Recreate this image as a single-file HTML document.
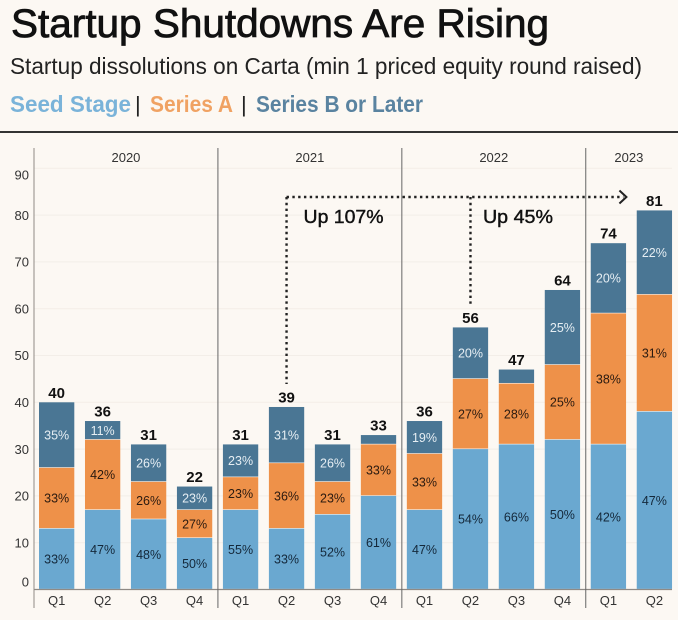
<!DOCTYPE html>
<html lang="en">
<head>
<meta charset="utf-8">
<title>Startup Shutdowns Are Rising</title>
<style>
html,body{margin:0;padding:0;background:#fcf8f3;}
svg{display:block;font-family:"Liberation Sans",sans-serif;}
</style>
</head>
<body>
<svg id="chart" xmlns="http://www.w3.org/2000/svg" width="678" height="620" viewBox="0 0 678 620">
  <rect x="0" y="0" width="678" height="620" fill="#fcf8f3"/>
  <text x="11" y="37" font-size="39.5" font-weight="400" stroke="#111" stroke-width="0.8" fill="#111" textLength="538" lengthAdjust="spacingAndGlyphs">Startup Shutdowns Are Rising</text>
  <text x="10" y="74" font-size="23" fill="#222" textLength="632" lengthAdjust="spacingAndGlyphs">Startup dissolutions on Carta (min 1 priced equity round raised)</text>
  <text x="10" y="112" font-size="23" font-weight="700" fill="#7ab3d9" textLength="121" lengthAdjust="spacingAndGlyphs">Seed Stage</text>
  <text x="135" y="112" font-size="22" fill="#222">|</text>
  <text x="150" y="112" font-size="23" font-weight="700" fill="#f0a263" textLength="83" lengthAdjust="spacingAndGlyphs">Series A</text>
  <text x="241" y="112" font-size="22" fill="#222">|</text>
  <text x="256" y="112" font-size="23" font-weight="700" fill="#5a83a0" textLength="167" lengthAdjust="spacingAndGlyphs">Series B or Later</text>
  <rect x="0" y="131" width="678" height="2" fill="#333"/>
  <g id="plot"></g>
</svg>
<script>
const quarters = ["Q1","Q2","Q3","Q4","Q1","Q2","Q3","Q4","Q1","Q2","Q3","Q4","Q1","Q2"];
const years = ["2020","2021","2022","2023"];
const yearSpans = [4,4,4,2];
const yTicks = [0,10,20,30,40,50,60,70,80,90];
const seedValues = [13,17,15,11,17,13,16,20,17,30,31,32,31,38];
const seriesAValues = [13,15,8,6,7,14,7,11,12,15,13,16,28,25];
const seriesBValues = [14,4,8,5,7,12,8,2,7,11,3,16,15,18];
const totals = [40,36,31,22,31,39,31,33,36,56,47,64,74,81];
const seedPct = ["33%","47%","48%","50%","55%","33%","52%","61%","47%","54%","66%","50%","42%","47%"];
const seriesAPct = ["33%","42%","26%","27%","23%","36%","23%","33%","33%","27%","28%","25%","38%","31%"];
const seriesBPct = ["35%","11%","26%","23%","23%","31%","26%","","19%","20%","","25%","20%","22%"];
const annotationStartIndexes = [5,9];
const annotationEndIndex = 13;
const annotationLabels = ["Up 107%","Up 45%"];

const plot = document.getElementById('plot');
const NS = 'http://www.w3.org/2000/svg';
const X0 = 39, STEP = 45.98, BAR_W = 35.3, Y0 = 589.5, UNIT = 4.68, LEFT = 34;
const xLeft = i => X0 + i * STEP;
const xMid = i => xLeft(i) + BAR_W / 2;
const yPos = v => Y0 - v * UNIT;

function make(tag, attrs, text) {
  const el = document.createElementNS(NS, tag);
  for (const k in attrs) el.setAttribute(k, attrs[k]);
  if (text !== undefined) el.textContent = text;
  plot.appendChild(el);
  return el;
}

// gridlines and y tick labels
yTicks.forEach((t, i) => {
  if (t > 0) {
    const g = make('line', {x1: LEFT, x2: 672, y1: yPos(t), y2: yPos(t), stroke: '#f3eee8', 'stroke-width': 1});
    
    
  }
  const shift = i === 0 ? -7.5 : (i === yTicks.length - 1 ? 6.5 : 0);
  const lab = make('text', {x: 29, y: yPos(t) + shift + 4.7, 'text-anchor': 'end', 'font-size': 13, fill: '#333'}, t);
  
  
});

// stacked bars
const layers = [
  {key: 'seed', vals: seedValues, pct: seedPct, fill: '#6aa8d0', txt: '#14283a'},
  {key: 'series-a', vals: seriesAValues, pct: seriesAPct, fill: '#ee9149', txt: '#2a1a10'},
  {key: 'series-b', vals: seriesBValues, pct: seriesBPct, fill: '#4a7694', txt: '#e6eef3'}
];
quarters.forEach((q, i) => {
  let base = 0;
  layers.forEach(layer => {
    const v = layer.vals[i];
    const top = yPos(base + v), bottom = yPos(base);
    const r = make('rect', {x: xLeft(i), y: top, width: BAR_W, height: Math.max(0, bottom - top - 0.6), fill: layer.fill});
    
    
    if (layer.pct[i]) {
      const t = make('text', {x: xMid(i), y: (top + bottom) / 2 + 4.4, 'text-anchor': 'middle', 'font-size': 12.5, fill: layer.txt}, layer.pct[i]);
      
      
    }
    base += v;
  });
  const tot = make('text', {x: xMid(i), y: yPos(totals[i]) - 4.5, 'text-anchor': 'middle', 'font-size': 15, 'font-weight': 700, fill: '#111'}, totals[i]);
  
  
  const ql = make('text', {x: xMid(i), y: 605, 'text-anchor': 'middle', 'font-size': 13, fill: '#333'}, q);
  
  
});

// x axis
const axis = make('line', {x1: LEFT, x2: 672, y1: Y0, y2: Y0, stroke: '#8f8a85', 'stroke-width': 1.2});



// year dividers and labels
let cursor = 0;
years.forEach((yr, i) => {
  const xStart = xLeft(cursor) - 5;
  const xEnd = cursor + yearSpans[i] < quarters.length ? xLeft(cursor + yearSpans[i]) - 5 : 672;
  const d = make('line', {x1: xStart, x2: xStart, y1: 148, y2: 608, stroke: i === 0 ? '#8f8a85' : '#666', 'stroke-width': 1});
  
  
  const l = make('text', {x: (xStart + xEnd) / 2, y: 162, 'text-anchor': 'middle', 'font-size': 13, fill: '#333'}, yr);
  
  
  cursor += yearSpans[i];
});

// annotations
const ANNOT_Y = 197;
const dotted = {stroke: '#222', 'stroke-width': 2.4, 'stroke-dasharray': '2.4 3.4', fill: 'none'};
const arrowEnd = xMid(annotationEndIndex - 1) + 17;
const hl = make('line', Object.assign({x1: xMid(annotationStartIndexes[0]), x2: arrowEnd - 2, y1: ANNOT_Y, y2: ANNOT_Y}, dotted));


const head = make('path', {d: 'M' + (arrowEnd - 6) + ' ' + (ANNOT_Y - 6.5) + 'L' + (arrowEnd + 1) + ' ' + ANNOT_Y + 'L' + (arrowEnd - 6) + ' ' + (ANNOT_Y + 6.5), stroke: '#222', 'stroke-width': 2, fill: 'none'});


annotationStartIndexes.forEach((idx, i) => {
  const v = make('line', Object.assign({x1: xMid(idx), x2: xMid(idx), y1: ANNOT_Y, y2: yPos(totals[idx]) - 23}, dotted));
  
  
  const t = make('text', {x: xMid(idx) + (i === 0 ? 17 : 12.5), y: 223, 'font-size': 18, fill: '#111', stroke: '#111', 'stroke-width': 0.4, textLength: i === 0 ? 80 : 70, lengthAdjust: 'spacingAndGlyphs'}, annotationLabels[i]);
  
  
});
</script>
</body>
</html>
